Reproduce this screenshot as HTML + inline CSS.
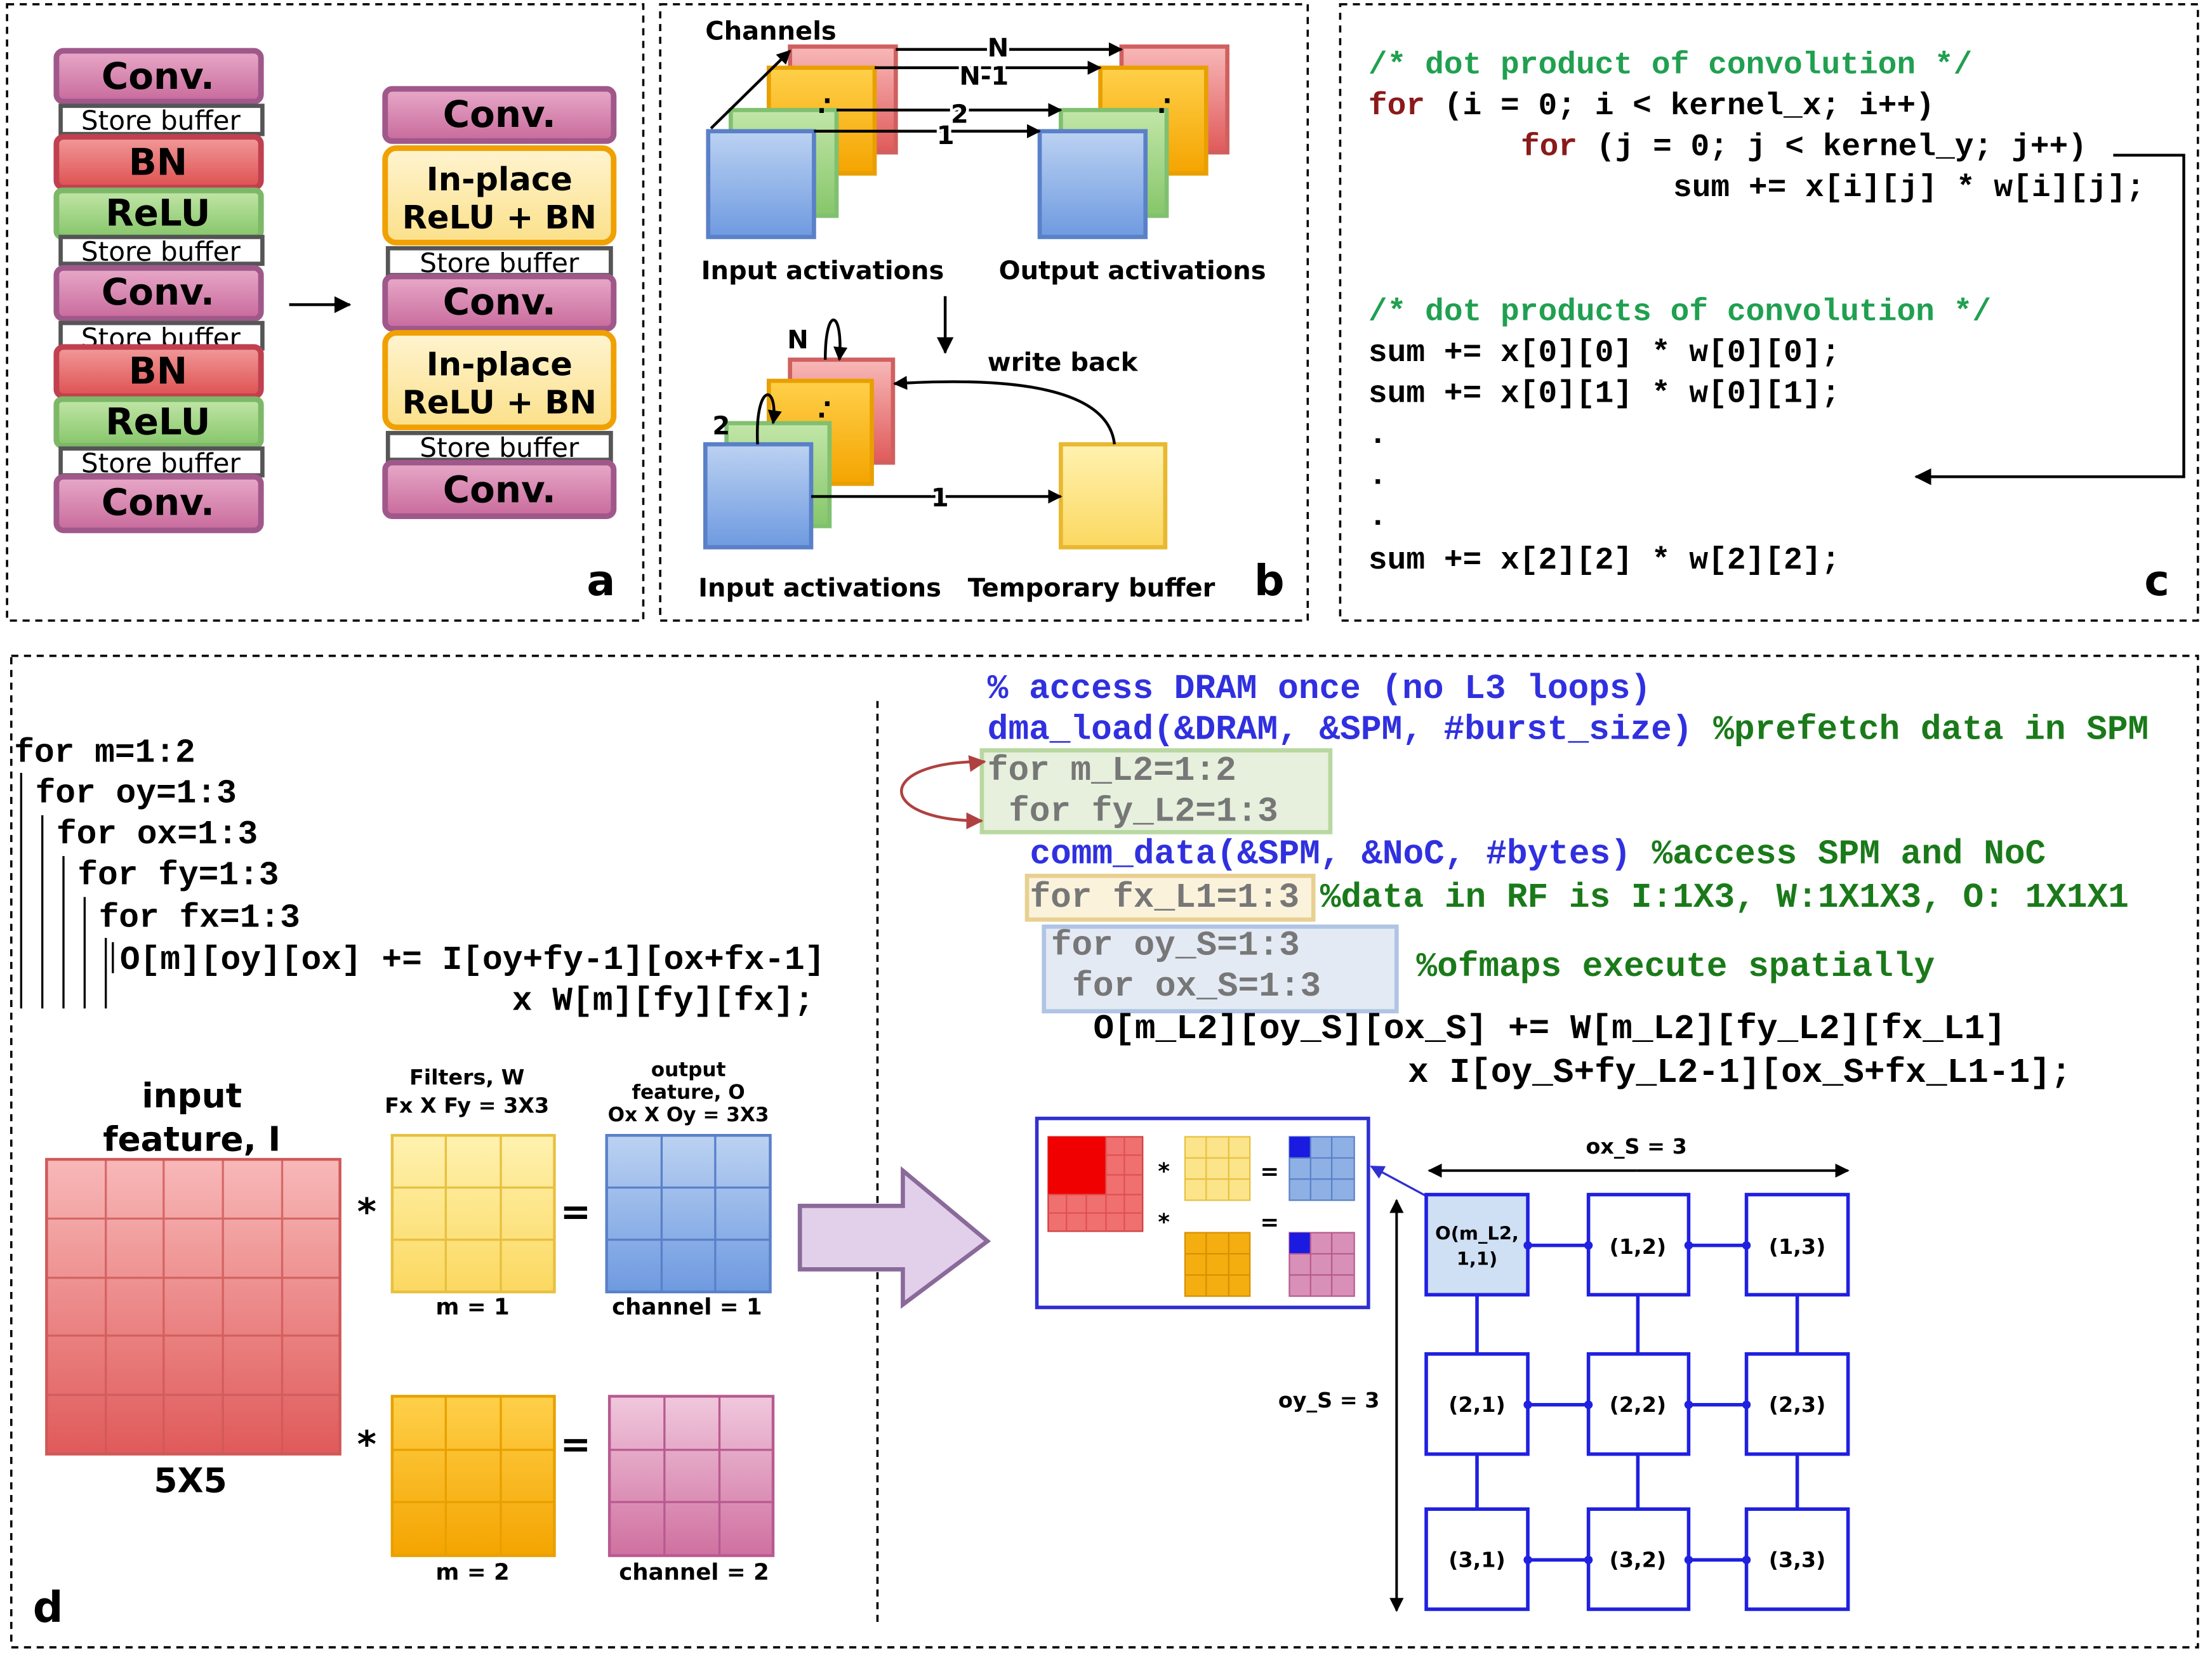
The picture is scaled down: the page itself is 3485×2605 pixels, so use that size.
<!DOCTYPE html>
<html><head><meta charset="utf-8"><style>
html,body{margin:0;padding:0;background:#fff;}
svg{display:block}
.lb{font-family:"DejaVu Sans","Liberation Sans",sans-serif;font-weight:bold;}
.mono{font-family:"Liberation Mono","DejaVu Sans Mono",monospace;font-weight:bold;}
</style></head><body>
<svg width="3485" height="2605" viewBox="0 0 1568 1172" xmlns="http://www.w3.org/2000/svg">
<defs>
<linearGradient id="gPink" x1="0" y1="0" x2="0" y2="1"><stop offset="0" stop-color="#e8a9c8"/><stop offset="1" stop-color="#c86a9c"/></linearGradient>
<linearGradient id="gRed" x1="0" y1="0" x2="0" y2="1"><stop offset="0" stop-color="#f29a9a"/><stop offset="1" stop-color="#de5050"/></linearGradient>
<linearGradient id="gGreen" x1="0" y1="0" x2="0" y2="1"><stop offset="0" stop-color="#c2e6a8"/><stop offset="1" stop-color="#86c66a"/></linearGradient>
<linearGradient id="gYel" x1="0" y1="0" x2="0" y2="1"><stop offset="0" stop-color="#fff4d0"/><stop offset="1" stop-color="#fbe08a"/></linearGradient>
<linearGradient id="gBlue" x1="0" y1="0" x2="0" y2="1"><stop offset="0" stop-color="#bcd2f2"/><stop offset="1" stop-color="#6e9ae0"/></linearGradient>
<linearGradient id="gOr" x1="0" y1="0" x2="0" y2="1"><stop offset="0" stop-color="#ffd04a"/><stop offset="1" stop-color="#f4a400"/></linearGradient>
<linearGradient id="gLY" x1="0" y1="0" x2="0" y2="1"><stop offset="0" stop-color="#fff2b0"/><stop offset="1" stop-color="#fbd860"/></linearGradient>
<linearGradient id="gRG" x1="0" y1="0" x2="0" y2="1"><stop offset="0" stop-color="#f8b8b8"/><stop offset="1" stop-color="#e05a5a"/></linearGradient>
<linearGradient id="gPk2" x1="0" y1="0" x2="0" y2="1"><stop offset="0" stop-color="#f0c8dc"/><stop offset="1" stop-color="#d070a0"/></linearGradient>
<marker id="ar" markerWidth="10" markerHeight="10" refX="9" refY="5" orient="auto" markerUnits="userSpaceOnUse"><path d="M0,0 L10,5 L0,10 Z" fill="#000"/></marker>
<marker id="arB" markerWidth="12" markerHeight="12" refX="11" refY="6" orient="auto" markerUnits="userSpaceOnUse"><path d="M0,0 L12,6 L0,12 Z" fill="#000"/></marker>
<marker id="arR" markerWidth="12" markerHeight="12" refX="11" refY="6" orient="auto" markerUnits="userSpaceOnUse"><path d="M0,0 L12,6 L0,12 Z" fill="#b04040"/></marker>
<marker id="arBl" markerWidth="10" markerHeight="10" refX="9" refY="5" orient="auto" markerUnits="userSpaceOnUse"><path d="M0,0 L10,5 L0,10 Z" fill="#3030d0"/></marker>
</defs>

<g fill="none" stroke="#000" stroke-width="1.6" stroke-dasharray="5,4">
<rect x="5" y="3" width="451" height="437"/>
<rect x="468" y="3" width="459" height="437"/>
<rect x="950" y="3" width="608" height="437"/>
<rect x="8" y="465" width="1550" height="703"/>
<line x1="622" y1="497" x2="622" y2="1150"/>
</g>

<!-- Panel a -->
<g class="lb" font-size="26" text-anchor="middle">
<rect x="40" y="36" width="145" height="36" rx="5" fill="url(#gPink)" stroke="#a0588a" stroke-width="4"/><text x="112" y="63">Conv.</text>
<rect x="43" y="75" width="143" height="20" fill="#fff" stroke="#555" stroke-width="3"/><text x="114" y="92" font-size="19" font-weight="normal">Store buffer</text>
<rect x="40" y="97" width="145" height="36" rx="5" fill="url(#gRed)" stroke="#c04050" stroke-width="4"/><text x="112" y="124">BN</text>
<rect x="40" y="135" width="145" height="33" rx="4" fill="url(#gGreen)" stroke="#7cb868" stroke-width="4"/><text x="112" y="160">ReLU</text>
<rect x="43" y="168" width="143" height="19" fill="#fff" stroke="#555" stroke-width="3"/><text x="114" y="185" font-size="19" font-weight="normal">Store buffer</text>
<rect x="40" y="190" width="145" height="36" rx="5" fill="url(#gPink)" stroke="#a0588a" stroke-width="4"/><text x="112" y="216">Conv.</text>
<rect x="43" y="229" width="143" height="18" fill="#fff" stroke="#555" stroke-width="3"/><text x="114" y="246" font-size="19" font-weight="normal">Store buffer</text>
<rect x="40" y="246" width="145" height="35" rx="5" fill="url(#gRed)" stroke="#c04050" stroke-width="4"/><text x="112" y="272">BN</text>
<rect x="40" y="283" width="145" height="33" rx="4" fill="url(#gGreen)" stroke="#7cb868" stroke-width="4"/><text x="112" y="308">ReLU</text>
<rect x="43" y="318" width="143" height="19" fill="#fff" stroke="#555" stroke-width="3"/><text x="114" y="335" font-size="19" font-weight="normal">Store buffer</text>
<rect x="40" y="338" width="145" height="38" rx="5" fill="url(#gPink)" stroke="#a0588a" stroke-width="4"/><text x="112" y="365">Conv.</text>

<rect x="273" y="63" width="162" height="37" rx="5" fill="url(#gPink)" stroke="#a0588a" stroke-width="4"/><text x="354" y="90">Conv.</text>
<rect x="273" y="105" width="162" height="67" rx="8" fill="url(#gYel)" stroke="#f0a000" stroke-width="4"/><text x="354" y="135" font-size="23">In-place</text><text x="354" y="162" font-size="23">ReLU + BN</text>
<rect x="275" y="176" width="158" height="19" fill="#fff" stroke="#555" stroke-width="3"/><text x="354" y="193" font-size="19" font-weight="normal">Store buffer</text>
<rect x="273" y="196" width="162" height="37" rx="5" fill="url(#gPink)" stroke="#a0588a" stroke-width="4"/><text x="354" y="223">Conv.</text>
<rect x="273" y="236" width="162" height="67" rx="8" fill="url(#gYel)" stroke="#f0a000" stroke-width="4"/><text x="354" y="266" font-size="23">In-place</text><text x="354" y="293" font-size="23">ReLU + BN</text>
<rect x="275" y="307" width="158" height="19" fill="#fff" stroke="#555" stroke-width="3"/><text x="354" y="324" font-size="19" font-weight="normal">Store buffer</text>
<rect x="273" y="328" width="162" height="38" rx="5" fill="url(#gPink)" stroke="#a0588a" stroke-width="4"/><text x="354" y="356">Conv.</text>
<text x="426" y="422" font-size="30">a</text>
</g>
<line x1="205" y1="216" x2="248" y2="216" stroke="#000" stroke-width="2" marker-end="url(#arB)"/>

<!-- Panel b -->
<g stroke-width="3">
<rect x="560" y="33" width="75" height="75" fill="url(#gRG)" stroke="#d06060"/>
<rect x="545" y="48" width="75" height="75" fill="url(#gOr)" stroke="#e8a000"/>
<rect x="518" y="78" width="75" height="75" fill="url(#gGreen)" stroke="#80c070"/>
<rect x="502" y="93" width="75" height="75" fill="url(#gBlue)" stroke="#5a80c8"/>
<rect x="795" y="33" width="75" height="75" fill="url(#gRG)" stroke="#d06060"/>
<rect x="780" y="48" width="75" height="75" fill="url(#gOr)" stroke="#e8a000"/>
<rect x="752" y="78" width="75" height="75" fill="url(#gGreen)" stroke="#80c070"/>
<rect x="737" y="93" width="75" height="75" fill="url(#gBlue)" stroke="#5a80c8"/>
<rect x="560" y="255" width="73" height="73" fill="url(#gRG)" stroke="#d06060"/>
<rect x="545" y="270" width="73" height="73" fill="url(#gOr)" stroke="#e8a000"/>
<rect x="515" y="300" width="73" height="73" fill="url(#gGreen)" stroke="#80c070"/>
<rect x="500" y="315" width="75" height="73" fill="url(#gBlue)" stroke="#5a80c8"/>
<rect x="752" y="315" width="74" height="73" fill="url(#gLY)" stroke="#e8b830"/>
</g>
<g stroke="#000" stroke-width="2" fill="none">
<line x1="635" y1="35" x2="795" y2="35" marker-end="url(#ar)"/>
<line x1="620" y1="48" x2="780" y2="48" marker-end="url(#ar)"/>
<line x1="593" y1="78" x2="752" y2="78" marker-end="url(#ar)"/>
<line x1="577" y1="93" x2="737" y2="93" marker-end="url(#ar)"/>
<line x1="504" y1="91" x2="560" y2="36" marker-end="url(#ar)"/>
<line x1="670" y1="210" x2="670" y2="250" marker-end="url(#arB)"/>
<line x1="575" y1="352" x2="752" y2="352" marker-end="url(#ar)"/>
<path d="M790,315 C785,270 700,268 634,272" marker-end="url(#ar)"/>
<path d="M585,255 C585,215 598,220 595,255" marker-end="url(#ar)"/>
<path d="M537,315 C535,270 552,272 548,300" marker-end="url(#ar)"/>
</g>
<g class="lb" font-size="18">
<text x="500" y="28">Channels</text>
<text x="700" y="40" fill="#000" stroke="#fff" stroke-width="4" paint-order="stroke">N</text>
<text x="680" y="60" stroke="#fff" stroke-width="4" paint-order="stroke">N-1</text>
<text x="674" y="87" stroke="#fff" stroke-width="4" paint-order="stroke">2</text>
<text x="664" y="102" stroke="#fff" stroke-width="4" paint-order="stroke">1</text>
<text x="583" y="73">.</text><text x="579" y="80">.</text>
<text x="824" y="73">.</text><text x="820" y="80">.</text>
<text x="583" y="288">.</text><text x="579" y="296">.</text>
<text x="497" y="198">Input activations</text>
<text x="708" y="198">Output activations</text>
<text x="700" y="263">write back</text>
<text x="558" y="247">N</text>
<text x="505" y="308">2</text>
<text x="660" y="359" stroke="#fff" stroke-width="4" paint-order="stroke">1</text>
<text x="495" y="423">Input activations</text>
<text x="686" y="423">Temporary buffer</text>
<text x="889" y="422" font-size="30">b</text>
</g>

<!-- Panel c -->
<g class="mono" font-size="22.3" xml:space="preserve">
<text x="970" y="52" fill="#20a050">/* dot product of convolution */</text>
<text x="970" y="81"><tspan fill="#8b1a1a">for</tspan> (i = 0; i &lt; kernel_x; i++)</text>
<text x="1078" y="110"><tspan fill="#8b1a1a">for</tspan> (j = 0; j &lt; kernel_y; j++)</text>
<text x="1186" y="139">sum += x[i][j] * w[i][j];</text>
<text x="970" y="227" fill="#20a050">/* dot products of convolution */</text>
<text x="970" y="256">sum += x[0][0] * w[0][0];</text>
<text x="970" y="285">sum += x[0][1] * w[0][1];</text>
<text x="970" y="314">.</text>
<text x="970" y="343">.</text>
<text x="970" y="372">.</text>
<text x="970" y="403">sum += x[2][2] * w[2][2];</text>
</g>
<polyline points="1498,110 1548,110 1548,338 1358,338" fill="none" stroke="#000" stroke-width="2" marker-end="url(#arB)"/>
<text x="1520" y="422" class="lb" font-size="30">c</text>

<!-- Panel d left code -->
<g class="mono" font-size="23.8" xml:space="preserve">
<text x="10" y="540">for m=1:2</text>
<text x="25" y="569">for oy=1:3</text>
<text x="40" y="598">for ox=1:3</text>
<text x="55" y="627">for fy=1:3</text>
<text x="70" y="657">for fx=1:3</text>
<text x="85" y="687">O[m][oy][ox] += I[oy+fy-1][ox+fx-1]</text>
<text x="363" y="716">x W[m][fy][fx];</text>
</g>
<g stroke="#000" stroke-width="1.5">
<line x1="15" y1="548" x2="15" y2="715"/><line x1="30" y1="578" x2="30" y2="715"/>
<line x1="45" y1="607" x2="45" y2="715"/><line x1="60" y1="636" x2="60" y2="715"/>
<line x1="75" y1="665" x2="75" y2="715"/><line x1="80" y1="668" x2="80" y2="690"/>
</g>

<g stroke-width="2">
<rect x="33" y="822" width="208" height="209" fill="url(#gRG)" stroke="#d05858"/>
<rect x="278" y="805" width="115" height="111" fill="url(#gLY)" stroke="#e8c040"/>
<rect x="430" y="805" width="116" height="111" fill="url(#gBlue)" stroke="#5a80c8"/>
<rect x="278" y="990" width="115" height="113" fill="url(#gOr)" stroke="#e8a000"/>
<rect x="432" y="990" width="116" height="113" fill="url(#gPk2)" stroke="#b85a90"/>
</g>
<g stroke="#d05858" stroke-width="1.5" opacity="0.8">
<line x1="75" y1="822" x2="75" y2="1031"/><line x1="116" y1="822" x2="116" y2="1031"/><line x1="158" y1="822" x2="158" y2="1031"/><line x1="200" y1="822" x2="200" y2="1031"/>
<line x1="33" y1="864" x2="241" y2="864"/><line x1="33" y1="906" x2="241" y2="906"/><line x1="33" y1="947" x2="241" y2="947"/><line x1="33" y1="989" x2="241" y2="989"/>
</g>
<g stroke="#e8c040" stroke-width="1.5"><line x1="316" y1="805" x2="316" y2="916"/><line x1="355" y1="805" x2="355" y2="916"/><line x1="278" y1="842" x2="393" y2="842"/><line x1="278" y1="879" x2="393" y2="879"/></g>
<g stroke="#5a80c8" stroke-width="1.5"><line x1="469" y1="805" x2="469" y2="916"/><line x1="507" y1="805" x2="507" y2="916"/><line x1="430" y1="842" x2="546" y2="842"/><line x1="430" y1="879" x2="546" y2="879"/></g>
<g stroke="#e8a000" stroke-width="1.5"><line x1="316" y1="990" x2="316" y2="1103"/><line x1="355" y1="990" x2="355" y2="1103"/><line x1="278" y1="1028" x2="393" y2="1028"/><line x1="278" y1="1065" x2="393" y2="1065"/></g>
<g stroke="#b85a90" stroke-width="1.5"><line x1="471" y1="990" x2="471" y2="1103"/><line x1="510" y1="990" x2="510" y2="1103"/><line x1="432" y1="1028" x2="548" y2="1028"/><line x1="432" y1="1065" x2="548" y2="1065"/></g>
<g class="lb" text-anchor="middle">
<text x="136" y="785" font-size="24">input</text>
<text x="136" y="816" font-size="24">feature, I</text>
<text x="135" y="1058" font-size="24">5X5</text>
<text x="331" y="769" font-size="15">Filters, W</text>
<text x="331" y="789" font-size="15">Fx X Fy = 3X3</text>
<text x="488" y="763" font-size="14">output</text>
<text x="488" y="779" font-size="14">feature, O</text>
<text x="488" y="795" font-size="14">Ox X Oy = 3X3</text>
<text x="335" y="932" font-size="16">m = 1</text>
<text x="487" y="932" font-size="16">channel = 1</text>
<text x="335" y="1120" font-size="16">m = 2</text>
<text x="492" y="1120" font-size="16">channel = 2</text>
<text x="260" y="868" font-size="26">*</text>
<text x="408" y="868" font-size="26">=</text>
<text x="260" y="1033" font-size="26">*</text>
<text x="408" y="1033" font-size="26">=</text>
<text x="34" y="1150" font-size="30">d</text>
</g>
<path d="M567,855 L640,855 L640,830 L700,880 L640,925 L640,900 L567,900 Z" fill="#e2d0ea" stroke="#8a6a9a" stroke-width="3"/>

<!-- right code -->
<rect x="696" y="532" width="247" height="58" fill="#e6f0dc" stroke="#b8d8a0" stroke-width="3"/>
<rect x="728" y="621" width="203" height="31" fill="#fbf2dc" stroke="#e8d090" stroke-width="3"/>
<rect x="740" y="657" width="250" height="60" fill="#e4eaf4" stroke="#b0c4e4" stroke-width="3"/>
<g class="mono" font-size="24.5" xml:space="preserve">
<text x="700" y="495" fill="#3030e0">% access DRAM once (no L3 loops)</text>
<text x="700" y="524"><tspan fill="#3030e0">dma_load(&amp;DRAM, &amp;SPM, #burst_size)</tspan> <tspan fill="#1a7a1a">%prefetch data in SPM</tspan></text>
<text x="700" y="553" fill="#777">for m_L2=1:2</text>
<text x="715" y="582" fill="#777">for fy_L2=1:3</text>
<text x="730" y="612"><tspan fill="#3030e0">comm_data(&amp;SPM, &amp;NoC, #bytes)</tspan> <tspan fill="#1a7a1a">%access SPM and NoC</tspan></text>
<text x="730" y="643"><tspan fill="#777">for fx_L1=1:3</tspan> <tspan fill="#1a7a1a">%data in RF is I:1X3, W:1X1X3, O: 1X1X1</tspan></text>
<text x="745" y="677" fill="#777">for oy_S=1:3</text>
<text x="760" y="706" fill="#777">for ox_S=1:3</text>
<text x="1004" y="692" fill="#1a7a1a">%ofmaps execute spatially</text>
<text x="775" y="736">O[m_L2][oy_S][ox_S] += W[m_L2][fy_L2][fx_L1]</text>
<text x="998" y="767">x I[oy_S+fy_L2-1][ox_S+fx_L1-1];</text>
</g>
<path d="M696,540 C620,540 620,582 696,582" fill="none" stroke="#b04040" stroke-width="2" marker-end="url(#arR)"/>
<line x1="690" y1="541" x2="698" y2="540" stroke="#b04040" stroke-width="2" marker-end="url(#arR)"/>

<!-- PE array -->
<rect x="735" y="793" width="235" height="134" fill="#fff" stroke="#3030d0" stroke-width="2.5"/>
<rect x="743" y="806" width="67" height="67" fill="#f07070" stroke="#d04040" stroke-width="1"/>
<rect x="743" y="806" width="41" height="41" fill="#f00000"/>
<g stroke="#e05050" stroke-width="1"><line x1="756" y1="847" x2="756" y2="873"/><line x1="770" y1="847" x2="770" y2="873"/><line x1="784" y1="806" x2="784" y2="873"/><line x1="797" y1="806" x2="797" y2="873"/><line x1="784" y1="819" x2="810" y2="819"/><line x1="784" y1="833" x2="810" y2="833"/><line x1="743" y1="847" x2="810" y2="847"/><line x1="743" y1="860" x2="810" y2="860"/></g>
<rect x="840" y="806" width="46" height="45" fill="#fbe48a" stroke="#e8c040"/>
<rect x="840" y="874" width="46" height="45" fill="#f4ae10" stroke="#d89000"/>
<rect x="914" y="806" width="46" height="45" fill="#8eb0e4" stroke="#5a80c8"/>
<rect x="914" y="874" width="46" height="45" fill="#d890b8" stroke="#b85a90"/>
<rect x="914" y="806" width="15" height="15" fill="#1a1ae0"/>
<rect x="914" y="874" width="15" height="15" fill="#1a1ae0"/>
<g stroke-width="1">
<path d="M855,806V851M871,806V851M840,821H886M840,836H886" stroke="#e8c040"/>
<path d="M855,874V919M871,874V919M840,889H886M840,904H886" stroke="#d89000"/>
<path d="M929,806V851M944,806V851M914,821H960M914,836H960" stroke="#5a80c8"/>
<path d="M929,874V919M944,874V919M914,889H960M914,904H960" stroke="#b85a90"/>
</g>
<g class="lb" font-size="16" text-anchor="middle"><text x="825" y="836">*</text><text x="900" y="836">=</text><text x="825" y="872">*</text><text x="900" y="872">=</text></g>
<line x1="1011" y1="848" x2="972" y2="827" stroke="#3030d0" stroke-width="1.5" marker-end="url(#arBl)"/>

<g stroke="#2020e0" stroke-width="2.5">
<path d="M1083,883H1126M1197,883H1238M1083,996H1126M1197,996H1238M1083,1106H1126M1197,1106H1238"/>
<path d="M1047,918V960M1161,918V960M1274,918V960M1047,1031V1070M1161,1031V1070M1274,1031V1070"/>
<rect x="1011" y="847" width="72" height="71" fill="#cfdff4"/>
<rect x="1126" y="847" width="71" height="71" fill="#fff"/><rect x="1238" y="847" width="72" height="71" fill="#fff"/>
<rect x="1011" y="960" width="72" height="71" fill="#fff"/><rect x="1126" y="960" width="71" height="71" fill="#fff"/><rect x="1238" y="960" width="72" height="71" fill="#fff"/>
<rect x="1011" y="1070" width="72" height="71" fill="#fff"/><rect x="1126" y="1070" width="71" height="71" fill="#fff"/><rect x="1238" y="1070" width="72" height="71" fill="#fff"/>
</g>
<g fill="#2020e0"><circle cx="1083" cy="883" r="3"/><circle cx="1126" cy="883" r="3"/><circle cx="1197" cy="883" r="3"/><circle cx="1238" cy="883" r="3"/><circle cx="1083" cy="996" r="3"/><circle cx="1126" cy="996" r="3"/><circle cx="1197" cy="996" r="3"/><circle cx="1238" cy="996" r="3"/><circle cx="1083" cy="1106" r="3"/><circle cx="1126" cy="1106" r="3"/><circle cx="1197" cy="1106" r="3"/><circle cx="1238" cy="1106" r="3"/></g>
<g class="lb" font-size="15" text-anchor="middle">
<text x="1047" y="879" font-size="13">O(m_L2,</text><text x="1047" y="897" font-size="13">1,1)</text>
<text x="1161" y="889">(1,2)</text><text x="1274" y="889">(1,3)</text>
<text x="1047" y="1001">(2,1)</text><text x="1161" y="1001">(2,2)</text><text x="1274" y="1001">(2,3)</text>
<text x="1047" y="1111">(3,1)</text><text x="1161" y="1111">(3,2)</text><text x="1274" y="1111">(3,3)</text>
<text x="1160" y="818">ox_S = 3</text>
<text x="942" y="998">oy_S = 3</text>
</g>
<line x1="1160" y1="830" x2="1310" y2="830" stroke="#000" stroke-width="1.8" marker-end="url(#ar)"/>
<line x1="1160" y1="830" x2="1013" y2="830" stroke="#000" stroke-width="1.8" marker-end="url(#ar)"/>
<line x1="990" y1="995" x2="990" y2="851" stroke="#000" stroke-width="1.8" marker-end="url(#ar)"/>
<line x1="990" y1="995" x2="990" y2="1142" stroke="#000" stroke-width="1.8" marker-end="url(#ar)"/>
</svg>
</body></html>
